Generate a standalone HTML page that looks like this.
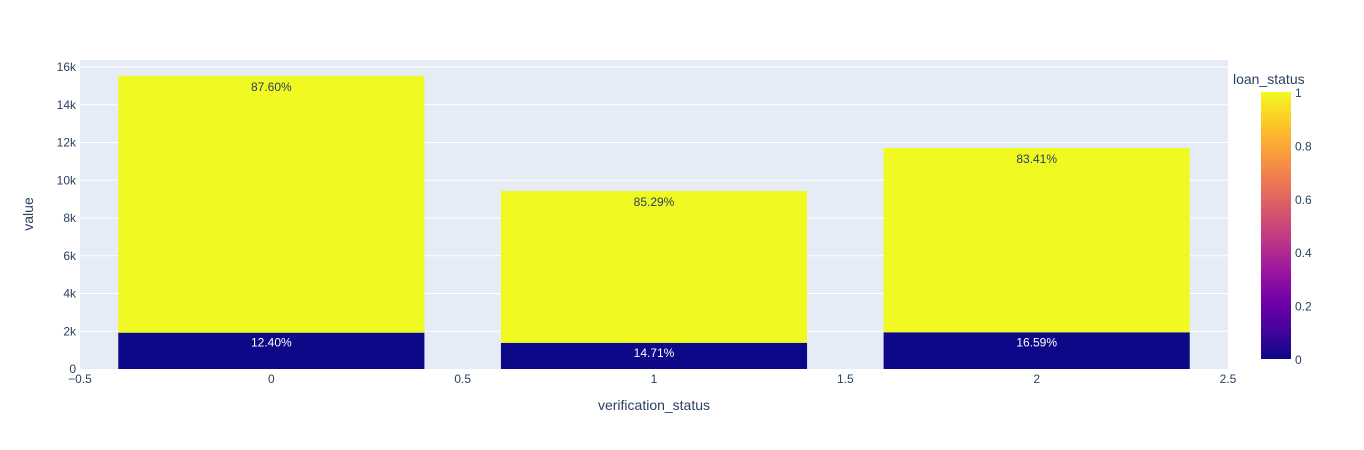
<!DOCTYPE html>
<html><head><meta charset="utf-8"><style>
html,body{margin:0;padding:0;background:#fff;}
svg{display:block;font-family:"Liberation Sans",Arial,sans-serif;}
</style></head><body>
<svg id="chart" width="1364" height="450">
<defs><linearGradient id="plasma" x1="0" y1="1" x2="0" y2="0">
<stop offset="0" stop-color="#0d0887"/><stop offset="0.111" stop-color="#46039f"/>
<stop offset="0.222" stop-color="#7201a8"/><stop offset="0.333" stop-color="#9c179e"/>
<stop offset="0.444" stop-color="#bd3786"/><stop offset="0.556" stop-color="#d8576b"/>
<stop offset="0.667" stop-color="#ed7953"/><stop offset="0.778" stop-color="#fb9f3a"/>
<stop offset="0.889" stop-color="#fdca26"/><stop offset="1" stop-color="#f0f921"/>
</linearGradient></defs>
<rect x="80" y="60" width="1148" height="309" fill="#E5ECF6"/>
<g id="grid"></g><g id="bars"></g><g id="labels"></g><g id="axes"></g>
<text x="654" y="410" text-anchor="middle" font-size="14" fill="#2a3f5f">verification_status</text>
<text transform="translate(33,214) rotate(-90)" text-anchor="middle" font-size="14" fill="#2a3f5f">value</text>
<g>
<text x="1233" y="84" font-size="14" fill="#2a3f5f">loan_status</text>
<rect x="1261" y="92" width="30" height="267" fill="url(#plasma)"/>
<g id="cbticks"></g>
</g>
</svg>
<script>
const categories=[0,1,2];
const charged=[1925,1387,1943];
const paid=[13610,8043,9767];
const chargedLabels=["12.40%","14.71%","16.59%"];
const paidLabels=["87.60%","85.29%","83.41%"];
const yTicks=[0,2000,4000,6000,8000,10000,12000,14000,16000];
const yTickLabels=["0","2k","4k","6k","8k","10k","12k","14k","16k"];
const xTicks=[-0.5,0,0.5,1,1.5,2,2.5];
const xTickLabels=["−0.5","0","0.5","1","1.5","2","2.5"];
const cbTicks=[0,0.2,0.4,0.6,0.8,1];
const cbTickLabels=["0","0.2","0.4","0.6","0.8","1"];
const NS="http://www.w3.org/2000/svg";
const X=v=>80+(v+0.5)*(1148/3);
const Y=v=>369-v*(302/16000);
const CB=v=>359-v*267;
function mk(tag,attrs,parent,txt){const e=document.createElementNS(NS,tag);for(const k in attrs)e.setAttribute(k,attrs[k]);if(txt!==undefined)e.textContent=txt;document.getElementById(parent).appendChild(e);return e;}
yTicks.forEach((t,i)=>{
 if(t>0){const g=mk('line',{x1:80,x2:1228,y1:Y(t),y2:Y(t),stroke:'#fff','stroke-width':1},'grid');
 
 }
 const l=mk('text',{x:76,y:Y(t)+4,'text-anchor':'end','font-size':12,fill:'#2a3f5f'},'axes',yTickLabels[i]);
 
 
});
xTicks.forEach((t,i)=>{
 const l=mk('text',{x:X(t),y:383,'text-anchor':'middle','font-size':12,fill:'#2a3f5f'},'axes',xTickLabels[i]);
 
 
});
categories.forEach((c,i)=>{
 const x0=X(c-0.4),w=X(c+0.4)-X(c-0.4);
 const b1=mk('rect',{x:x0,y:Y(charged[i]),width:w,height:Y(0)-Y(charged[i]),fill:'#0d0887'},'bars');
 
 
 const top=charged[i]+paid[i];
 const b2=mk('rect',{x:x0,y:Y(top),width:w,height:Y(charged[i])-Y(top),fill:'#f0f921'},'bars');
 
 
 const t1=mk('text',{x:X(c),y:Y(charged[i])+14,'text-anchor':'middle','font-size':12,fill:'#fff'},'labels',chargedLabels[i]);
 
 
 const t2=mk('text',{x:X(c),y:Y(top)+15,'text-anchor':'middle','font-size':12,fill:'#2a3f5f'},'labels',paidLabels[i]);
 
 
});
cbTicks.forEach((t,i)=>{
 const l=mk('text',{x:1295,y:CB(t)+5,'font-size':12,fill:'#2a3f5f'},'cbticks',cbTickLabels[i]);
 
 
});
</script>
</body></html>
